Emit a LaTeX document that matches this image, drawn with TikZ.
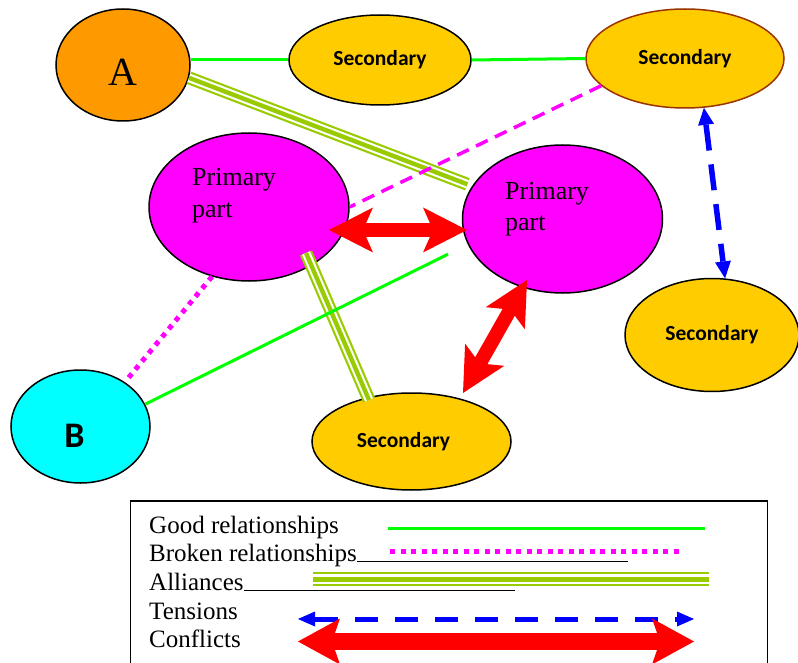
\documentclass[tikz,border=0pt]{standalone}
\usepackage{fontspec}
\setmainfont{Liberation Serif}
\newfontfamily\labelsans{Carlito}
\usetikzlibrary{shapes.geometric,arrows.meta}
\definecolor{partA}{HTML}{FF9900}
\definecolor{second}{HTML}{FFCC00}
\definecolor{prim}{HTML}{FF00FF}
\definecolor{partB}{HTML}{00FFFF}
\definecolor{goodc}{HTML}{00FF00}
\definecolor{allyc}{HTML}{99CC00}
\definecolor{rimc}{HTML}{993300}
\begin{document}
\begin{tikzpicture}[x=1pt,y=-1pt,
  party/.style={ellipse, draw=black, line width=1.5pt, inner sep=0pt},
  secnode/.style={party, fill=second, font=\labelsans\bfseries\fontsize{21.5}{26}\selectfont},
  primnode/.style={party, fill=prim, minimum width=200pt, minimum height=148pt},
  ptext/.style={font=\fontsize{26}{31.5}\selectfont, align=left, inner sep=0pt, anchor=base west},
  legtext/.style={font=\fontsize{25}{29}\selectfont, inner sep=0pt, anchor=base west},
  goodrel/.style={draw=goodc, line width=3pt},
  brokenrel/.style={draw=prim, line width=3.5pt, dash pattern=on 13pt off 8pt},
  brokendot/.style={draw=prim, line width=5pt, dash pattern=on 5pt off 5.5pt},
  allyrel/.style={draw=allyc, line width=13pt,
    postaction={draw=white, line width=8.6pt},
    postaction={draw=allyc, line width=4.4pt}},
  allyleg/.style={draw=allyc, line width=14pt,
    postaction={draw=white, line width=10.5pt},
    postaction={draw=allyc, line width=5pt}},
  conflictrel/.style={draw=red, line width=14pt,
    >={Stealth[length=44pt,width=45pt,inset=10pt,line width=0pt]}, <->},
  conflictleg/.style={draw=red, line width=17pt,
    >={Stealth[length=42pt,width=46pt,inset=8pt,line width=0pt]}, <->},
  tensionrel/.style={draw=blue, line width=5.5pt, dash pattern=on 26pt off 14pt,
    >={Triangle[length=17pt,width=16pt,line width=0pt]}, <->},
  tensionleg/.style={draw=blue, line width=5pt, dash pattern=on 23pt off 17pt,
    >={Triangle[length=17pt,width=15pt,line width=0pt]}, <->}
]
\useasboundingbox (0,0) rectangle (798,663);
\clip (0,0) rectangle (798,663);

% parties
\node[party, fill=partA, minimum width=134pt, minimum height=112pt,
  label={[font=\fontsize{40}{48}\selectfont, yshift=-7pt]center:A}] (a) at (123,65) {};
\node[secnode, minimum width=182pt, minimum height=90pt] (s1) at (380,60) {Secondary};
\node[secnode, draw=rimc, minimum width=198pt, minimum height=99pt] (s2) at (685,58.5) {Secondary};
\node[primnode] (p1) at (249,207) {};
\node[primnode] (p2) at (562.5,219) {};
\node[party, fill=partB, minimum width=139pt, minimum height=113pt,
  label={[font=\labelsans\bfseries\fontsize{36}{42}\selectfont, xshift=-6pt, yshift=-9pt]center:B}] (b) at (80.5,426.5) {};
\node[secnode, minimum width=199pt, minimum height=97pt] (s3) at (411.5,441.5) {Secondary\hspace*{16pt}};
\node[secnode, minimum width=174pt, minimum height=113pt] (s4) at (712,335) {Secondary};
% the base anchor of a two-line node sits on its last line
\node[ptext] (p1t) at (192,217.5) {Primary\\part};
\node[ptext] (p2t) at (505,230.5) {Primary\\part};

% relationships
\draw[goodrel] (a.east |- s1.west) -- (s1.west);
\draw[goodrel] (s1.east) -- (s2.west);
\draw[allyrel, shorten >=5pt] (a.-11) -- (p2.160);
\draw[allyrel] ([shift={(57,46)}]p1.center) -- ([shift={(-42.5,-41.5)}]s3.center);
\draw[goodrel, shorten >=22pt] (b.19) -- (p2.195);
\draw[brokenrel] (s2.198) -- (p1.east);
\draw[brokendot, shorten >=5pt] (p1.242) -- (b.45);
\draw[conflictrel] ([shift={(80,23)}]p1.center) -- ([shift={(-95.5,11)}]p2.center);
\draw[conflictrel] ([shift={(-35.5,61)}]p2.center) -- ([shift={(51.5,-48.5)}]s3.center);
\draw[tensionrel] (s2.-69) -- (s4.77);

% legend
\node[draw=black, line width=1.5pt, minimum width=637pt, minimum height=200pt,
  inner sep=0pt, anchor=north west] (legend) at (129.5,500) {};
\node[legtext] (lg1) at (149,533) {Good relationships};
\node[legtext] (lg2) at (149,561) {Broken relationships\rule[-1pt]{271pt}{1pt}};
\node[legtext] (lg3) at (149,590) {Alliances\rule[-1pt]{271pt}{1pt}};
\node[legtext] (lg4) at (149,619) {Tensions};
\node[legtext] (lg5) at (149,647) {Conflicts};
\coordinate (g1) at (388,528);   \coordinate (g2) at (705,528);
\coordinate (d1) at (390,551);   \coordinate (d2) at (680,551);
\coordinate (al1) at (313,579);  \coordinate (al2) at (709,579);
\coordinate (t1) at (298,619);   \coordinate (t2) at (694,619);
\coordinate (c1) at (298,641.5); \coordinate (c2) at (694,641.5);
\draw[goodrel] (g1) -- (g2);
\draw[brokendot] (d1) -- (d2);
\draw[allyleg] (al1) -- (al2);
\draw[tensionleg] (t1) -- (t2);
\draw[conflictleg] (c1) -- (c2);
\end{tikzpicture}
\end{document}
